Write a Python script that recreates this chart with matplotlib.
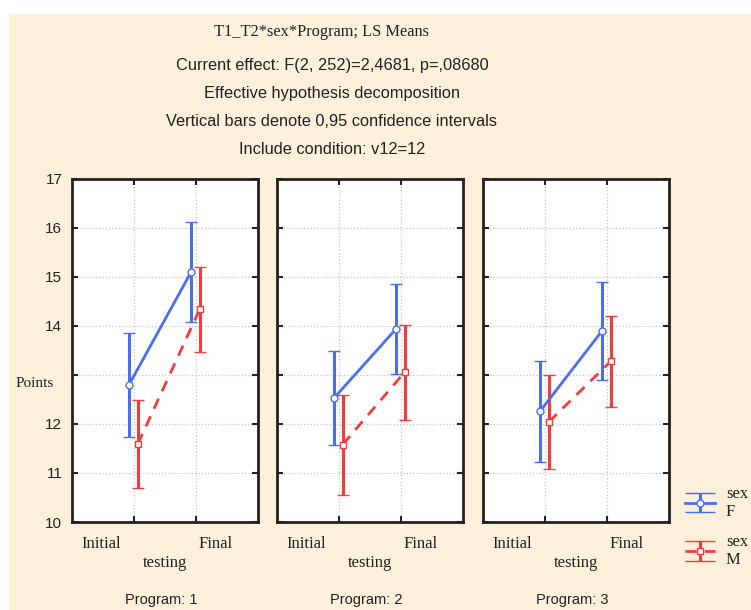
import matplotlib.pyplot as plt
from matplotlib.container import ErrorbarContainer
from matplotlib.legend_handler import HandlerErrorbar
from matplotlib.lines import Line2D
from matplotlib.patches import Rectangle
from matplotlib.transforms import ScaledTranslation

# LS means with 0.95 confidence half-widths, per program
programs = ['Program: 1', 'Program: 2', 'Program: 3']
testing = ['Initial', 'Final']
f_means = [[12.80, 15.10], [12.53, 13.94], [12.26, 13.90]]
f_ci = [[1.06, 1.02], [0.96, 0.91], [1.03, 1.00]]
m_means = [[11.59, 14.34], [11.58, 13.06], [12.04, 13.28]]
m_ci = [[0.90, 0.87], [1.02, 0.97], [0.95, 0.93]]
y_ticks = [10, 11, 12, 13, 14, 15, 16, 17]
y_ticklabels = ['10', '11', '12', '', '14', '15', '16', '17']
sex_labels = ['sex\nF', 'sex\nM']

title_lines = ['Current effect: F(2, 252)=2,4681, p=,08680',
               'Effective hypothesis decomposition',
               'Vertical bars denote 0,95 confidence intervals',
               'Include condition: v12=12']

blue = '#4a6ef2'
red = '#f23c3c'
ink = '#222222'
serif = 'Liberation Serif'
sans = 'Liberation Sans'

W, H = 751, 610
fig = plt.figure(figsize=(W / 100, H / 100), dpi=100, facecolor='white')
fig.patches.append(Rectangle((9 / W, 0), 1, 1 - 14 / H, transform=fig.transFigure,
                             facecolor='#fdf0db', edgecolor='none', zorder=-10))

fig.text(321 / W, 1 - 32 / H, 'T1_T2*sex*Program; LS Means', family=serif,
         fontsize=11.8, color=ink, ha='center', va='center')
for i, line in enumerate(title_lines):
    fig.text(332 / W, 1 - (65.5 + 28 * i) / H, line, family=sans, fontsize=11.8,
             color=ink, ha='center', va='center')

lefts = [72, 277, 483]
handles = []
for k, left in enumerate(lefts):
    ax = fig.add_axes([left / W, 1 - 522 / H, 186 / W, 343 / H])
    ax.set_facecolor('white')
    xs = [0, 1]
    eb_f = ax.errorbar([x - 0.08 for x in xs], f_means[k], yerr=f_ci[k], color=blue,
                       lw=2, elinewidth=2.2, capsize=4, capthick=2, marker='o', ms=5,
                       mfc='white', mec=blue, mew=1, zorder=3)
    eb_m = ax.errorbar([x + 0.06 for x in xs], m_means[k], yerr=m_ci[k], color=red,
                       lw=2, ls=(0, (4, 3)), elinewidth=2.2, capsize=4, capthick=2,
                       marker='s', ms=4.5, mfc='white', mec=red, mew=1, zorder=3)
    if k == 0:
        handles = [eb_f, eb_m]

    ax.set_xlim(-1, 2)
    ax.set_ylim(10, 17)
    ax.set_xticks(xs)
    ax.set_xticklabels(testing, family=serif, fontsize=12, color=ink)
    ax.set_yticks(y_ticks)
    ax.grid(True, color='#c4c4c4', ls=':', lw=0.9)
    ax.set_axisbelow(True)
    for s in ax.spines.values():
        s.set_linewidth(2)
        s.set_color(ink)
    ax.tick_params(direction='in', length=4, width=1.5, color=ink,
                   top=True, right=True)
    ax.tick_params(axis='x', pad=10)
    shifts = [-33, 20]
    for lab, dx in zip(ax.get_xticklabels(), shifts):
        lab.set_transform(lab.get_transform() +
                          ScaledTranslation(dx / 100, 0, fig.dpi_scale_trans))
    if k == 0:
        ax.set_yticklabels(y_ticklabels, family=sans, fontsize=11, color=ink)
        ax.tick_params(axis='y', pad=7)
        ax.set_ylabel('Points', family=serif, fontsize=11, color=ink, rotation=0,
                      ha='center', va='center')
        ax.yaxis.set_label_coords(-0.2, 0.405)
    else:
        ax.set_yticklabels([])
    ax.set_xlabel('testing', family=serif, fontsize=12, color=ink, labelpad=2)
    ax.annotate(programs[k], xy=(0.5, 0), xycoords='axes fraction',
                xytext=(-3, -56), textcoords='offset points', ha='center',
                va='center', family=sans, fontsize=10.5, color=ink,
                annotation_clip=False)


def widen_caps(leg_artist, orig):
    leg_artist.update_from(orig)
    # caps in the legend symbol run across the whole handle
    if isinstance(leg_artist, Line2D) and leg_artist.get_marker() == '_':
        leg_artist.set_markersize(22)


# legend symbols only; the two-line labels are set beside them
fig.legend(handles, ['', ''], loc='upper left',
           bbox_to_anchor=(671 / W, 1 - 480 / H), frameon=False,
           prop={'family': serif, 'size': 11}, handlelength=2.0,
           handleheight=2.2, handletextpad=0.2, labelspacing=1.5,
           handler_map={ErrorbarContainer: HandlerErrorbar(
               xerr_size=0.5, yerr_size=0.65, update_func=widen_caps)})
for i, lab in enumerate(sex_labels):
    fig.text(726 / W, 1 - (503 + 48 * i) / H, lab, family=serif, fontsize=12,
             color=ink, ha='left', va='center', linespacing=1.15)

fig.savefig('out.png', dpi=100, facecolor=fig.get_facecolor())
